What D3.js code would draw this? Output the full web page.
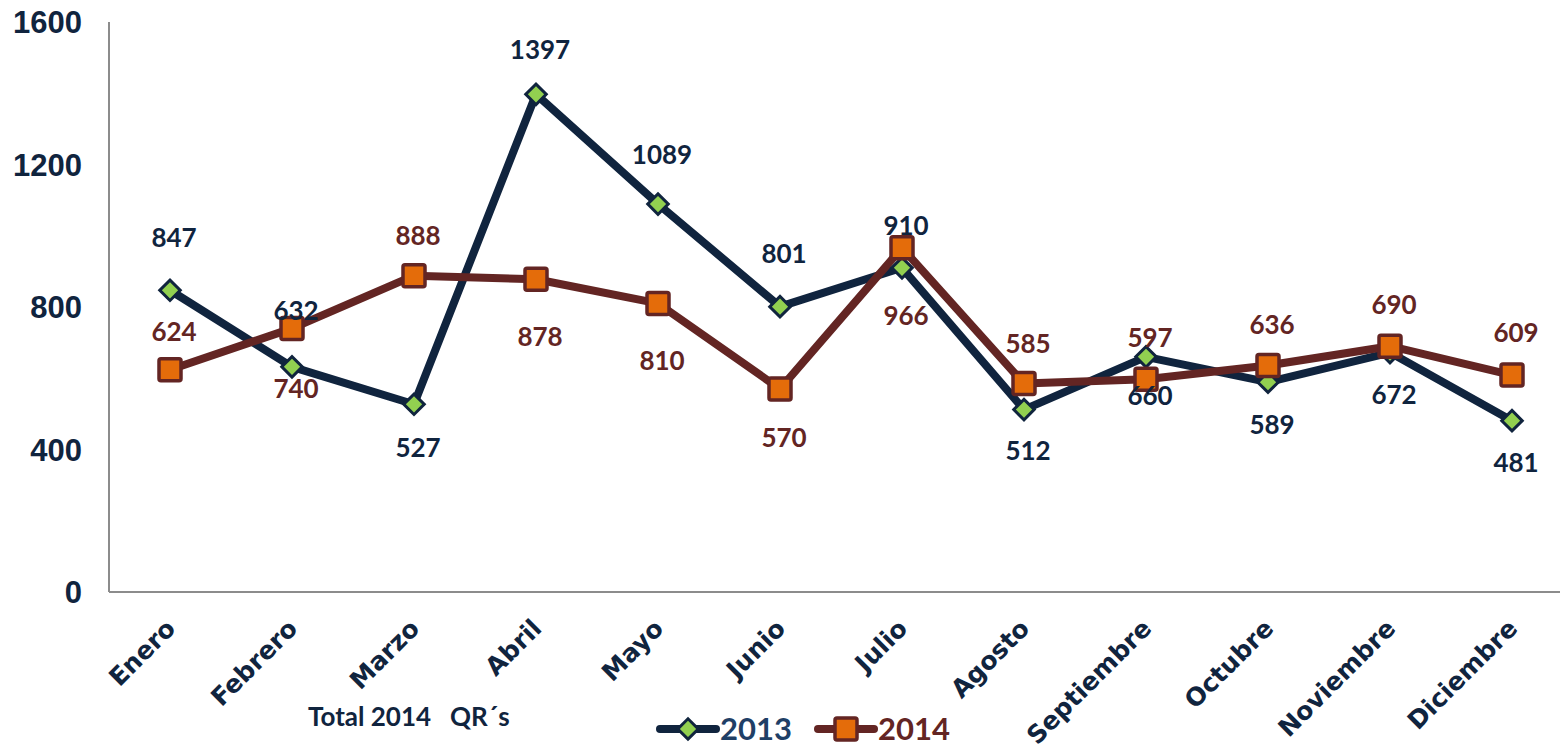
<!DOCTYPE html>
<html lang="es">
<head>
  <meta charset="UTF-8" />
  <title>Total 2014 QR´s</title>
  <script src="https://d3js.org/d3.v7.min.js"></script>
  <style>
    body {
      margin: 0;
      padding: 0;
      background: white;
    }

    svg {
      display: block;
    }

    .axis-line {
      stroke: #8c8c8c;
      stroke-width: 2px;
    }

    .y-label {
      fill: #10243e;
      font-family: "Liberation Sans", Arial, sans-serif;
      font-weight: bold;
      font-size: 31px;
    }

    .month-label {
      fill: #10243e;
      font-family: "DejaVu Sans", Verdana, sans-serif;
      font-weight: bold;
      font-size: 25px;
    }

    .value-label {
      font-family: Lato, "Open Sans", sans-serif;
      font-weight: bold;
      font-size: 26px;
    }

    .caption {
      fill: #10243e;
      font-family: Lato, "Open Sans", sans-serif;
      font-weight: bold;
      font-size: 26px;
      white-space: pre;
    }

    .legend-text {
      font-family: Lato, "Open Sans", sans-serif;
      font-weight: bold;
      font-size: 31px;
    }
  </style>
</head>
<body>
  <svg id="chart" width="1560" height="751"></svg>

  <script>
    const W = 1560, H = 751;

    // Data
    const months = ["Enero", "Febrero", "Marzo", "Abril", "Mayo", "Junio",
                    "Julio", "Agosto", "Septiembre", "Octubre", "Noviembre", "Diciembre"];
    const values2013 = [847, 632, 527, 1397, 1089, 801, 910, 512, 660, 589, 672, 481];
    const values2014 = [624, 740, 888, 878, 810, 570, 966, 585, 597, 636, 690, 609];
    const yTicks = [0, 400, 800, 1200, 1600];

    // vertical offset (px) of each data label from its marker, as dragged in the original
    const labelDy2013 = [-53, -56, 43, -45, -49, -53, -42, 41, 39, 42, 42, 42];
    const labelDy2014 = [-38, 60, -40, 57, 57, 49, 68, -40, -42, -41, -42, -42];

    const colors = {
      navy: "#10243e",
      navyText: "#1f3f66",
      green: "#92d050",
      maroon: "#632523",
      orange: "#e46c0a"
    };

    const svg = d3.select("#chart");

    const plot = { left: 109, top: 22, bottom: 592 };
    const step = 122;

    const x = d3.scalePoint()
      .domain(months)
      .range([plot.left, plot.left + step * months.length])
      .padding(0.5);

    const y = d3.scaleLinear()
      .domain([0, 1600])
      .range([plot.bottom, plot.top]);

    // axes (plain lines, no ticks)
    svg.append("line")
      .attr("class", "axis-line")
      .attr("x1", plot.left).attr("x2", plot.left)
      .attr("y1", plot.top).attr("y2", plot.bottom);

    svg.append("line")
      .attr("class", "axis-line")
      .attr("x1", plot.left).attr("x2", W)
      .attr("y1", plot.bottom).attr("y2", plot.bottom);

    svg.selectAll(".y-label")
      .data(yTicks)
      .join("text")
      .attr("class", "y-label")
      .attr("x", 82)
      .attr("y", d => y(d))
      .attr("dy", "0.36em")
      .attr("text-anchor", "end")
      .text(d => d);

    svg.selectAll(".month-label")
      .data(months)
      .join("text")
      .attr("class", "month-label")
      .attr("text-anchor", "end")
      .attr("transform", d => `translate(${x(d) + 7},${plot.bottom + 38}) rotate(-45)`)
      .text(d => d);

    const line = d3.line()
      .x((d, i) => x(months[i]))
      .y(d => y(d));

    // 2013 series
    svg.append("path")
      .datum(values2013)
      .attr("fill", "none")
      .attr("stroke", colors.navy)
      .attr("stroke-width", 8)
      .attr("stroke-linejoin", "round")
      .attr("d", line);

    // 2014 series
    svg.append("path")
      .datum(values2014)
      .attr("fill", "none")
      .attr("stroke", colors.maroon)
      .attr("stroke-width", 8)
      .attr("stroke-linejoin", "round")
      .attr("d", line);

    const diamond = d3.symbol().type(d3.symbolSquare).size(210);

    svg.selectAll(".m2013")
      .data(values2013)
      .join("path")
      .attr("class", "m2013")
      .attr("d", diamond)
      .attr("transform", (d, i) => `translate(${x(months[i])},${y(d)}) rotate(45)`)
      .attr("fill", colors.green)
      .attr("stroke", colors.navy)
      .attr("stroke-width", 3);

    svg.selectAll(".m2014")
      .data(values2014)
      .join("rect")
      .attr("class", "m2014")
      .attr("x", (d, i) => x(months[i]) - 11)
      .attr("y", d => y(d) - 11)
      .attr("width", 22)
      .attr("height", 22)
      .attr("rx", 2)
      .attr("fill", colors.orange)
      .attr("stroke", colors.maroon)
      .attr("stroke-width", 3.5);

    // data labels
    svg.selectAll(".l2013")
      .data(values2013)
      .join("text")
      .attr("class", "value-label l2013")
      .attr("x", (d, i) => x(months[i]) + 4)
      .attr("y", (d, i) => y(d) + labelDy2013[i])
      .attr("dy", "0.36em")
      .attr("text-anchor", "middle")
      .attr("fill", colors.navy)
      .text(d => d);

    svg.selectAll(".l2014")
      .data(values2014)
      .join("text")
      .attr("class", "value-label l2014")
      .attr("x", (d, i) => x(months[i]) + 4)
      .attr("y", (d, i) => y(d) + labelDy2014[i])
      .attr("dy", "0.36em")
      .attr("text-anchor", "middle")
      .attr("fill", colors.maroon)
      .text(d => d);

    // caption under the axis
    svg.append("text")
      .attr("class", "caption")
      .attr("x", 308)
      .attr("y", 726)
      .text("Total 2014   QR´s");

    // legend
    const legend = [
      { name: "2013", stroke: colors.navy, text: colors.navyText, x0: 660 },
      { name: "2014", stroke: colors.maroon, text: colors.maroon, x0: 818 }
    ];
    const ly = 729;

    legend.forEach((d, i) => {
      svg.append("line")
        .attr("x1", d.x0).attr("x2", d.x0 + 56)
        .attr("y1", ly).attr("y2", ly)
        .attr("stroke", d.stroke)
        .attr("stroke-width", 8)
        .attr("stroke-linecap", "round");
      if (i === 0) {
        svg.append("path")
          .attr("d", diamond)
          .attr("transform", `translate(${d.x0 + 28},${ly}) rotate(45)`)
          .attr("fill", colors.green)
          .attr("stroke", colors.navy)
          .attr("stroke-width", 3);
      } else {
        svg.append("rect")
          .attr("x", d.x0 + 28 - 11).attr("y", ly - 11)
          .attr("width", 22).attr("height", 22)
          .attr("rx", 2)
          .attr("fill", colors.orange)
          .attr("stroke", colors.maroon)
          .attr("stroke-width", 3.5);
      }
      svg.append("text")
        .attr("class", "legend-text")
        .attr("x", d.x0 + 60)
        .attr("y", ly)
        .attr("dy", "0.36em")
        .attr("fill", d.text)
        .text(d.name);
    });
  </script>
</body>
</html>
